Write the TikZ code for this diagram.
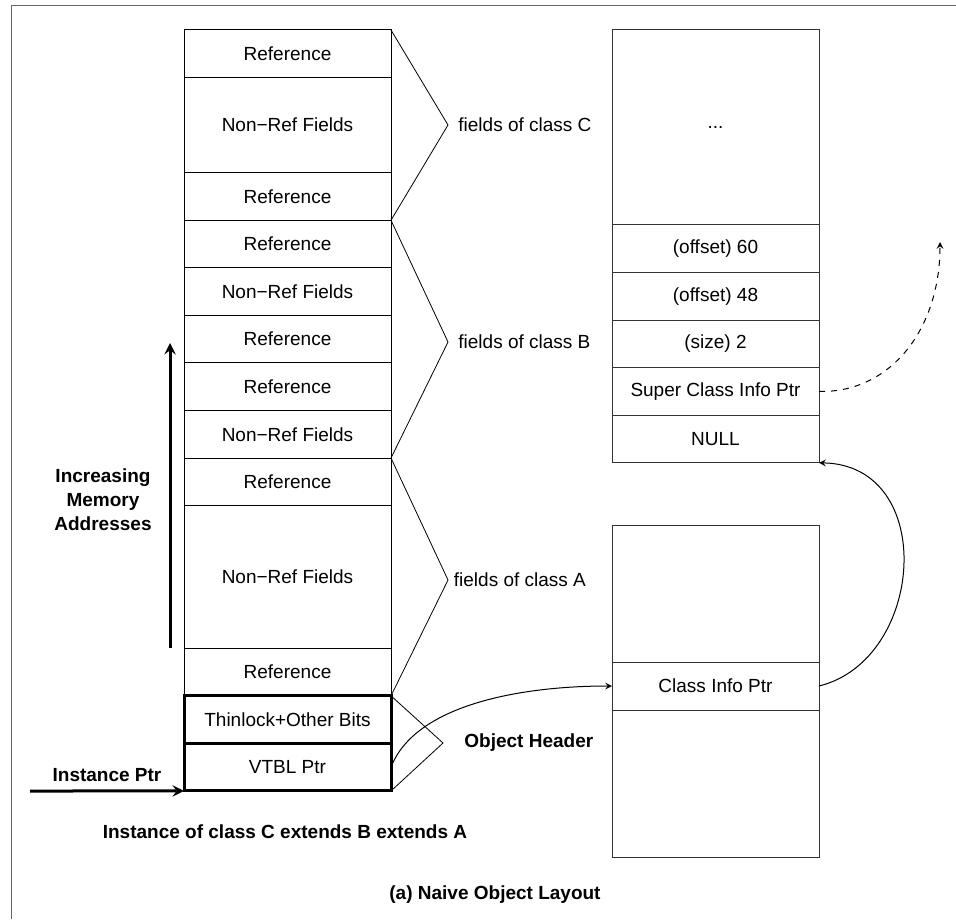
\documentclass[tikz,border=0pt]{standalone}
\usepackage{fontspec}
\setmainfont{Liberation Sans}
\usepackage{tikz}
\usetikzlibrary{shapes,arrows,calc}
\usetikzlibrary{positioning}
\newcommand{\cellfont}{\fontsize{9.5}{12}\selectfont}
\newcommand{\rowh}{23.78pt}
\tikzstyle{cell0}=[draw, line width=0.5pt, anchor=center, text centered,
inner sep=0pt, outer sep=0pt, font=\cellfont]
\tikzstyle{cell}=[cell0, minimum width=103.5pt, minimum height=\rowh]
\tikzstyle{hdrcell}=[cell, line width=1.5pt]
\tikzstyle{infocell}=[cell, draw=black!80]
\tikzstyle{myarrow}=[->, >=stealth, line width=0.5pt]
\tikzstyle{thickarrow}=[->, >=stealth, line width=1.5pt]
\tikzstyle{line}=[line width=0.4pt]
\tikzstyle{fieldlabel}=[font=\cellfont, inner sep=0pt, anchor=west]
\tikzstyle{boldlabel}=[font=\cellfont\bfseries, inner sep=0pt, align=center]
\tikzstyle{frameline}=[draw=black!60, line width=0.5pt]

\begin{document}
\begin{tikzpicture}[x=0.5pt,y=-0.5pt]
		\useasboundingbox (0,0) rectangle (956,919) ;
		\draw[frameline] (11,919) -- (11,6) -- (956,6) ;

		% instance of class C extends B extends A
		\node[cell, anchor=north west] (C1) at (184,30) {Reference} ;
		\node[cell, minimum height=2*\rowh, below=0pt of C1] (C2) {Non−Ref Fields} ;
		\node[cell, below=0pt of C2] (C3) {Reference} ;
		\node[cell, below=0pt of C3] (B1) {Reference} ;
		\node[cell, below=0pt of B1] (B2) {Non−Ref Fields} ;
		\node[cell, below=0pt of B2] (B3) {Reference} ;
		\node[cell, below=0pt of B3] (B4) {Reference} ;
		\node[cell, below=0pt of B4] (B5) {Non−Ref Fields} ;
		\node[cell, below=0pt of B5] (A1) {Reference} ;
		\node[cell, minimum height=3*\rowh, below=0pt of A1] (A2) {Non−Ref Fields} ;
		\node[cell, below=0pt of A2] (A3) {Reference} ;
		\node[hdrcell, below=0pt of A3] (H1) {Thinlock+Other Bits} ;
		\node[hdrcell, below=0pt of H1] (H2) {VTBL Ptr} ;

		% brackets
		\coordinate (tipC) at (448,125) ;
		\node[fieldlabel, right=5pt of tipC] (fC) {fields of class C} ;
		\draw[line] (C1.north east) -- (tipC) -- (C3.south east) ;

		\coordinate (tipB) at (448,342) ;
		\node[fieldlabel, right=5pt of tipB] (fB) {fields of class B} ;
		\draw[line] (B1.north east) -- (tipB) -- (B5.south east) ;

		\coordinate (tipA) at (448,580) ;
		\node[fieldlabel, right=2.75pt of tipA] (fA) {fields of class A} ;
		\draw[line] (A1.north east) -- (tipA) -- (A3.south east) ;

		\coordinate (tipH) at (443,743) ;
		\node[boldlabel, right=10.5pt of tipH] (fH) {Object Header} ;
		\draw[line] (H1.north east) -- (tipH) -- (H2.south east) ;

		% class info
		\node[infocell, minimum height=97.5pt, anchor=north west] (S0) at (612,30) {...} ;
		\node[infocell, below=0pt of S0] (S1) {(offset) 60} ;
		\node[infocell, below=0pt of S1] (S2) {(offset) 48} ;
		\node[infocell, below=0pt of S2] (S3) {(size) 2} ;
		\node[infocell, below=0pt of S3] (S4) {Super Class Info Ptr} ;
		\node[infocell, below=0pt of S4] (S5) {NULL} ;

		\node[infocell, minimum height=68.5pt, anchor=north west] (K0) at (612,525) {} ;
		\node[infocell, minimum height=24pt, below=0pt of K0] (K1) {Class Info Ptr} ;
		\node[infocell, minimum height=73.5pt, below=0pt of K1] (K2) {} ;

		\coordinate (sup) at (940,242) ;
		\draw[myarrow, dashed] (S4.east) .. controls (890,393) and (940,330) .. (sup) ;
		\draw[myarrow] (K1.east) .. controls (925,660) and (938,465) .. (S5.south east) ;
		\draw[myarrow] (H2.east) .. controls (415,705) and (520,686) .. (K1.west) ;

		% left labels
		\node[boldlabel] (mem) at (103,500) {Increasing\\Memory\\Addresses} ;
		\coordinate (memlo) at (170,648) ;
		\coordinate (memhi) at (170,343) ;
		\draw[thickarrow] (memlo) -- (memhi) ;

		\node[boldlabel] (iptr) at (107,775) {Instance Ptr} ;
		\coordinate (iptrstart) at (30,791) ;
		\draw[thickarrow] (iptrstart) -- (H2.south west) ;

		\node[boldlabel] (inst) at (285,832) {Instance of class C extends B extends A} ;
		\node[boldlabel, anchor=west] (cap) at (389,895) {(a) Naive Object Layout} ;
\end{tikzpicture}
\end{document}
